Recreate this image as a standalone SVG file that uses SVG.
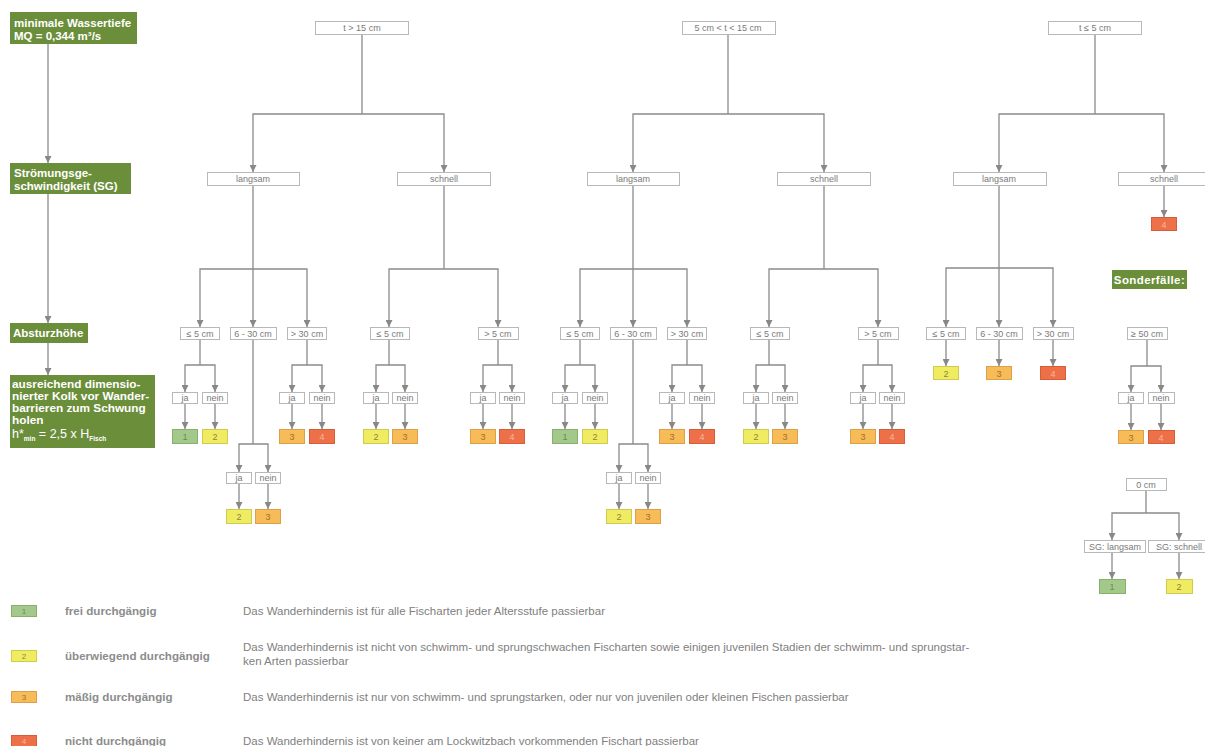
<svg xmlns="http://www.w3.org/2000/svg" width="1205" height="746" viewBox="0 0 1205 746">
<style>
.g{fill:#6b8e3b}
.gt{font-family:"Liberation Sans",Arial,sans-serif;font-size:11.5px;font-weight:bold;fill:#ffffff}
.gk{font-family:"Liberation Sans",Arial,sans-serif;font-size:11.8px;font-weight:bold;fill:#ffffff}
.gn{font-family:"Liberation Sans",Arial,sans-serif;font-size:12.5px;fill:#ffffff}
.b{fill:#ffffff;stroke:#b8b8b8;stroke-width:1}
.t{font-family:"Liberation Sans",Arial,sans-serif;font-size:9px;fill:#7a7a7a;text-anchor:middle}
.r1{fill:#a3c98a;stroke:#8aae72}
.r2{fill:#efec62;stroke:#cfcb50}
.r3{fill:#f7bb58;stroke:#dba048}
.r4{fill:#ee7049;stroke:#d45d3a}
.rt{font-family:"Liberation Sans",Arial,sans-serif;font-size:9px;text-anchor:middle}
.c1{fill:#6b8a5c}.c2{fill:#8c853e}.c3{fill:#a06f2e}.c4{fill:#f6b7a4}
.cn path{fill:none;stroke:#8a8a8a;stroke-width:1.3}
.cn .al{stroke:#a0a0a0;stroke-width:1.6}
.a{marker-end:url(#ah)}
.aa{marker-start:url(#ah);marker-end:url(#ah)}
.lg{font-family:"Liberation Sans",Arial,sans-serif;font-size:11.6px;font-weight:bold;fill:#8c8c8c}
.ld{font-family:"Liberation Sans",Arial,sans-serif;font-size:11.5px;fill:#808080}
.lb{stroke-width:1}
.ln{font-family:"Liberation Sans",Arial,sans-serif;font-size:8px;text-anchor:middle}
</style>
<defs>
<marker id="ah" viewBox="0 0 8 8" refX="8" refY="4" markerWidth="7" markerHeight="7" markerUnits="userSpaceOnUse" orient="auto-start-reverse">
<path d="M0,0L8,4L0,8z" fill="#888888"/>
</marker>
</defs>
<rect width="1205" height="746" fill="#ffffff"/>

<!-- connectors -->
<g id="connectors" class="cn">
<!-- left column -->
<path class="al a" d="M48,44V163"/>
<path class="al a" d="M48,194V323"/>
<path class="al a" d="M48,343V375"/>
<!-- tree 1 -->
<path d="M362,34V114"/>
<path class="aa" d="M253,172V114H444V172"/>
<path class="a" d="M253,185V327"/>
<path class="aa" d="M200,327V269H307V327"/>
<path d="M200,339V365"/>
<path class="aa" d="M185,392V365H215V392"/>
<path class="a" d="M185,403V429"/><path class="a" d="M215,403V429"/>
<path d="M253,339V444"/>
<path class="aa" d="M239,472V444H268V472"/>
<path class="a" d="M239,483V509"/><path class="a" d="M268,483V509"/>
<path d="M307,339V365"/>
<path class="aa" d="M292,392V365H322V392"/>
<path class="a" d="M292,403V429"/><path class="a" d="M322,403V429"/>
<path d="M444,185V269"/>
<path class="aa" d="M389,327V269H498V327"/>
<path d="M389,339V365"/>
<path class="aa" d="M376,392V365H405V392"/>
<path class="a" d="M376,403V429"/><path class="a" d="M405,403V429"/>
<path d="M498,339V365"/>
<path class="aa" d="M483,392V365H512V392"/>
<path class="a" d="M483,403V429"/><path class="a" d="M512,403V429"/>
<!-- tree 2 -->
<path d="M728,34V114"/>
<path class="aa" d="M633,172V114H824V172"/>
<path class="a" d="M633,185V327"/>
<path class="aa" d="M580,327V269H687V327"/>
<path d="M580,339V365"/>
<path class="aa" d="M565,392V365H595V392"/>
<path class="a" d="M565,403V429"/><path class="a" d="M595,403V429"/>
<path d="M633,339V444"/>
<path class="aa" d="M619,472V444H648V472"/>
<path class="a" d="M619,483V509"/><path class="a" d="M648,483V509"/>
<path d="M687,339V365"/>
<path class="aa" d="M672,392V365H702V392"/>
<path class="a" d="M672,403V429"/><path class="a" d="M702,403V429"/>
<path d="M824,185V269"/>
<path class="aa" d="M769,327V269H878V327"/>
<path d="M769,339V365"/>
<path class="aa" d="M756,392V365H785V392"/>
<path class="a" d="M756,403V429"/><path class="a" d="M785,403V429"/>
<path d="M878,339V365"/>
<path class="aa" d="M863,392V365H892V392"/>
<path class="a" d="M863,403V429"/><path class="a" d="M892,403V429"/>
<!-- tree 3 -->
<path d="M1095,34V114"/>
<path class="aa" d="M999,172V114H1164V172"/>
<path class="a" d="M999,185V327"/>
<path class="aa" d="M946,327V268H1053V327"/>
<path class="a" d="M946,339V366"/>
<path class="a" d="M999,339V366"/>
<path class="a" d="M1053,339V366"/>
<path class="a" d="M1164,185V217"/>
<!-- Sonderfaelle -->
<path d="M1147,339V366"/>
<path class="aa" d="M1131,392V366H1161V392"/>
<path class="a" d="M1131,403V430"/><path class="a" d="M1161,403V430"/>
<path d="M1146,490V513"/>
<path class="aa" d="M1112,540V513H1179V540"/>
<path class="a" d="M1112,552V579"/><path class="a" d="M1179,552V579"/>
</g>

<!-- left column -->
<g id="n-wassertiefe"><rect class="g" x="10" y="12" width="127" height="32"/><text class="gt" x="14" y="27">minimale Wassertiefe</text><text class="gt" x="14" y="40">MQ = 0,344 m³/s</text></g>
<g id="n-stroemung"><rect class="g" x="10" y="163" width="121" height="31"/><text class="gt" x="14" y="177">Strömungsge-</text><text class="gt" x="14" y="190">schwindigkeit (SG)</text></g>
<g id="n-absturz"><rect class="g" x="10" y="323" width="78" height="20"/><text class="gt" x="13" y="337">Absturzhöhe</text></g>
<g id="n-kolk"><rect class="g" x="10" y="375" width="145" height="73"/>
<text class="gk" x="12" y="388">ausreichend dimensio-</text>
<text class="gk" x="12" y="400">nierter Kolk vor Wander-</text>
<text class="gk" x="12" y="412">barrieren zum Schwung</text>
<text class="gk" x="12" y="424">holen</text>
<text class="gn" x="12" y="438">h*<tspan font-size="6.5" font-weight="bold" dy="3">min</tspan><tspan dy="-3"> = 2,5 x H</tspan><tspan font-size="6.5" font-weight="bold" dy="3">Fisch</tspan></text></g>

<!-- tree 1 -->
<g id="t1"><rect class="b" x="315.5" y="21.5" width="93" height="13"/><text class="t" x="362" y="31">t &gt; 15 cm</text></g>
<g id="t1-l"><rect class="b" x="207.5" y="172.5" width="92" height="13"/><text class="t" x="253" y="182">langsam</text></g>
<g id="t1-s"><rect class="b" x="397.5" y="172.5" width="93" height="13"/><text class="t" x="444" y="182">schnell</text></g>
<g id="t1-l-h1"><rect class="b" x="180.5" y="327.5" width="39" height="12"/><text class="t" x="200" y="336.5">≤ 5 cm</text></g>
<g id="t1-l-h2"><rect class="b" x="230.5" y="327.5" width="46" height="12"/><text class="t" x="253" y="336.5">6 - 30 cm</text></g>
<g id="t1-l-h3"><rect class="b" x="287.5" y="327.5" width="39" height="12"/><text class="t" x="307" y="336.5">&gt; 30 cm</text></g>
<g id="t1-s-h1"><rect class="b" x="370.5" y="327.5" width="39" height="12"/><text class="t" x="390" y="336.5">≤ 5 cm</text></g>
<g id="t1-s-h2"><rect class="b" x="478.5" y="327.5" width="40" height="12"/><text class="t" x="498" y="336.5">&gt; 5 cm</text></g>
<g id="t1-a-ja"><rect class="b" x="172.5" y="392.5" width="25" height="11"/><text class="t" x="185" y="401">ja</text></g>
<g id="t1-a-nein"><rect class="b" x="202.5" y="392.5" width="25" height="11"/><text class="t" x="215" y="401">nein</text></g>
<g id="t1-a-r1"><rect class="r1" x="172.5" y="429.5" width="25" height="14"/><text class="rt c1" x="185" y="440">1</text></g>
<g id="t1-a-r2"><rect class="r2" x="202.5" y="429.5" width="25" height="14"/><text class="rt c2" x="215" y="440">2</text></g>
<g id="t1-b-ja"><rect class="b" x="226.5" y="472.5" width="25" height="11"/><text class="t" x="239" y="481">ja</text></g>
<g id="t1-b-nein"><rect class="b" x="255.5" y="472.5" width="25" height="11"/><text class="t" x="268" y="481">nein</text></g>
<g id="t1-b-r2"><rect class="r2" x="226.5" y="509.5" width="25" height="14"/><text class="rt c2" x="239" y="520">2</text></g>
<g id="t1-b-r3"><rect class="r3" x="255.5" y="509.5" width="25" height="14"/><text class="rt c3" x="268" y="520">3</text></g>
<g id="t1-c-ja"><rect class="b" x="279.5" y="392.5" width="25" height="11"/><text class="t" x="292" y="401">ja</text></g>
<g id="t1-c-nein"><rect class="b" x="309.5" y="392.5" width="25" height="11"/><text class="t" x="322" y="401">nein</text></g>
<g id="t1-c-r3"><rect class="r3" x="279.5" y="429.5" width="25" height="14"/><text class="rt c3" x="292" y="440">3</text></g>
<g id="t1-c-r4"><rect class="r4" x="309.5" y="429.5" width="25" height="14"/><text class="rt c4" x="322" y="440">4</text></g>
<g id="t1-d-ja"><rect class="b" x="363.5" y="392.5" width="25" height="11"/><text class="t" x="376" y="401">ja</text></g>
<g id="t1-d-nein"><rect class="b" x="392.5" y="392.5" width="25" height="11"/><text class="t" x="405" y="401">nein</text></g>
<g id="t1-d-r2"><rect class="r2" x="363.5" y="429.5" width="25" height="14"/><text class="rt c2" x="376" y="440">2</text></g>
<g id="t1-d-r3"><rect class="r3" x="392.5" y="429.5" width="25" height="14"/><text class="rt c3" x="405" y="440">3</text></g>
<g id="t1-e-ja"><rect class="b" x="470.5" y="392.5" width="25" height="11"/><text class="t" x="483" y="401">ja</text></g>
<g id="t1-e-nein"><rect class="b" x="499.5" y="392.5" width="25" height="11"/><text class="t" x="512" y="401">nein</text></g>
<g id="t1-e-r3"><rect class="r3" x="470.5" y="429.5" width="25" height="14"/><text class="rt c3" x="483" y="440">3</text></g>
<g id="t1-e-r4"><rect class="r4" x="499.5" y="429.5" width="25" height="14"/><text class="rt c4" x="512" y="440">4</text></g>

<!-- tree 2 -->
<g id="t2"><rect class="b" x="682.5" y="21.5" width="93" height="13"/><text class="t" x="728" y="31">5 cm &lt; t &lt; 15 cm</text></g>
<g id="t2-l"><rect class="b" x="587.5" y="172.5" width="92" height="13"/><text class="t" x="633" y="182">langsam</text></g>
<g id="t2-s"><rect class="b" x="777.5" y="172.5" width="93" height="13"/><text class="t" x="824" y="182">schnell</text></g>
<g id="t2-l-h1"><rect class="b" x="560.5" y="327.5" width="39" height="12"/><text class="t" x="580" y="336.5">≤ 5 cm</text></g>
<g id="t2-l-h2"><rect class="b" x="610.5" y="327.5" width="46" height="12"/><text class="t" x="633" y="336.5">6 - 30 cm</text></g>
<g id="t2-l-h3"><rect class="b" x="667.5" y="327.5" width="39" height="12"/><text class="t" x="687" y="336.5">&gt; 30 cm</text></g>
<g id="t2-s-h1"><rect class="b" x="750.5" y="327.5" width="39" height="12"/><text class="t" x="770" y="336.5">≤ 5 cm</text></g>
<g id="t2-s-h2"><rect class="b" x="858.5" y="327.5" width="40" height="12"/><text class="t" x="878" y="336.5">&gt; 5 cm</text></g>
<g id="t2-a-ja"><rect class="b" x="552.5" y="392.5" width="25" height="11"/><text class="t" x="565" y="401">ja</text></g>
<g id="t2-a-nein"><rect class="b" x="582.5" y="392.5" width="25" height="11"/><text class="t" x="595" y="401">nein</text></g>
<g id="t2-a-r1"><rect class="r1" x="552.5" y="429.5" width="25" height="14"/><text class="rt c1" x="565" y="440">1</text></g>
<g id="t2-a-r2"><rect class="r2" x="582.5" y="429.5" width="25" height="14"/><text class="rt c2" x="595" y="440">2</text></g>
<g id="t2-b-ja"><rect class="b" x="606.5" y="472.5" width="25" height="11"/><text class="t" x="619" y="481">ja</text></g>
<g id="t2-b-nein"><rect class="b" x="635.5" y="472.5" width="25" height="11"/><text class="t" x="648" y="481">nein</text></g>
<g id="t2-b-r2"><rect class="r2" x="606.5" y="509.5" width="25" height="14"/><text class="rt c2" x="619" y="520">2</text></g>
<g id="t2-b-r3"><rect class="r3" x="635.5" y="509.5" width="25" height="14"/><text class="rt c3" x="648" y="520">3</text></g>
<g id="t2-c-ja"><rect class="b" x="659.5" y="392.5" width="25" height="11"/><text class="t" x="672" y="401">ja</text></g>
<g id="t2-c-nein"><rect class="b" x="689.5" y="392.5" width="25" height="11"/><text class="t" x="702" y="401">nein</text></g>
<g id="t2-c-r3"><rect class="r3" x="659.5" y="429.5" width="25" height="14"/><text class="rt c3" x="672" y="440">3</text></g>
<g id="t2-c-r4"><rect class="r4" x="689.5" y="429.5" width="25" height="14"/><text class="rt c4" x="702" y="440">4</text></g>
<g id="t2-d-ja"><rect class="b" x="743.5" y="392.5" width="25" height="11"/><text class="t" x="756" y="401">ja</text></g>
<g id="t2-d-nein"><rect class="b" x="772.5" y="392.5" width="25" height="11"/><text class="t" x="785" y="401">nein</text></g>
<g id="t2-d-r2"><rect class="r2" x="743.5" y="429.5" width="25" height="14"/><text class="rt c2" x="756" y="440">2</text></g>
<g id="t2-d-r3"><rect class="r3" x="772.5" y="429.5" width="25" height="14"/><text class="rt c3" x="785" y="440">3</text></g>
<g id="t2-e-ja"><rect class="b" x="850.5" y="392.5" width="25" height="11"/><text class="t" x="863" y="401">ja</text></g>
<g id="t2-e-nein"><rect class="b" x="879.5" y="392.5" width="25" height="11"/><text class="t" x="892" y="401">nein</text></g>
<g id="t2-e-r3"><rect class="r3" x="850.5" y="429.5" width="25" height="14"/><text class="rt c3" x="863" y="440">3</text></g>
<g id="t2-e-r4"><rect class="r4" x="879.5" y="429.5" width="25" height="14"/><text class="rt c4" x="892" y="440">4</text></g>

<!-- tree 3 -->
<g id="t3"><rect class="b" x="1048.5" y="21.5" width="93" height="13"/><text class="t" x="1095" y="31">t ≤ 5 cm</text></g>
<g id="t3-l"><rect class="b" x="953.5" y="172.5" width="93" height="13"/><text class="t" x="999" y="182">langsam</text></g>
<g id="t3-s"><rect class="b" x="1118.5" y="172.5" width="93" height="13"/><text class="t" x="1164" y="182">schnell</text></g>
<g id="t3-s-r4"><rect class="r4" x="1151.5" y="217.5" width="25" height="13"/><text class="rt c4" x="1164" y="227.5">4</text></g>
<g id="t3-l-h1"><rect class="b" x="926.5" y="327.5" width="39" height="12"/><text class="t" x="946" y="336.5">≤ 5 cm</text></g>
<g id="t3-l-h2"><rect class="b" x="976.5" y="327.5" width="46" height="12"/><text class="t" x="999" y="336.5">6 - 30 cm</text></g>
<g id="t3-l-h3"><rect class="b" x="1033.5" y="327.5" width="40" height="12"/><text class="t" x="1053" y="336.5">&gt; 30 cm</text></g>
<g id="t3-r2"><rect class="r2" x="933.5" y="366.5" width="25" height="13"/><text class="rt c2" x="946" y="376.5">2</text></g>
<g id="t3-r3"><rect class="r3" x="986.5" y="366.5" width="25" height="13"/><text class="rt c3" x="999" y="376.5">3</text></g>
<g id="t3-r4"><rect class="r4" x="1040.5" y="366.5" width="25" height="13"/><text class="rt c4" x="1053" y="376.5">4</text></g>

<!-- Sonderfaelle -->
<g id="n-sonderfaelle"><rect class="g" x="1112" y="270" width="75" height="19"/><text class="gt" x="1149.5" y="284" text-anchor="middle" letter-spacing="0.4">Sonderfälle:</text></g>
<g id="s-h50"><rect class="b" x="1127.5" y="327.5" width="40" height="12"/><text class="t" x="1147" y="336.5">≥ 50 cm</text></g>
<g id="s-ja"><rect class="b" x="1118.5" y="392.5" width="25" height="11"/><text class="t" x="1131" y="401">ja</text></g>
<g id="s-nein"><rect class="b" x="1148.5" y="392.5" width="26" height="11"/><text class="t" x="1161" y="401">nein</text></g>
<g id="s-r3"><rect class="r3" x="1118.5" y="430.5" width="25" height="13"/><text class="rt c3" x="1131" y="440.5">3</text></g>
<g id="s-r4"><rect class="r4" x="1148.5" y="430.5" width="26" height="13"/><text class="rt c4" x="1161" y="440.5">4</text></g>
<g id="s-h0"><rect class="b" x="1126.5" y="478.5" width="40" height="12"/><text class="t" x="1146" y="487.5">0 cm</text></g>
<g id="s-sgl"><rect class="b" x="1084.5" y="540.5" width="61" height="12"/><text class="t" x="1115" y="549.5">SG: langsam</text></g>
<g id="s-sgs"><rect class="b" x="1148.5" y="540.5" width="62" height="12"/><text class="t" x="1179" y="549.5">SG: schnell</text></g>
<g id="s-r1"><rect class="r1" x="1099.5" y="579.5" width="26" height="14"/><text class="rt c1" x="1112" y="590">1</text></g>
<g id="s-r2"><rect class="r2" x="1166.5" y="579.5" width="26" height="14"/><text class="rt c2" x="1179" y="590">2</text></g>

<!-- legend -->
<g id="legend-1"><rect class="r1 lb" x="11.5" y="605.5" width="25" height="11"/><text class="ln c1" x="24" y="614">1</text><text class="lg" x="65" y="615">frei durchgängig</text><text class="ld" x="243" y="615">Das Wanderhindernis ist für alle Fischarten jeder Altersstufe passierbar</text></g>
<g id="legend-2"><rect class="r2 lb" x="11.5" y="650.5" width="25" height="11"/><text class="ln c2" x="24" y="659">2</text><text class="lg" x="65" y="660">überwiegend durchgängig</text><text class="ld" x="243" y="651">Das Wanderhindernis ist nicht von schwimm- und sprungschwachen Fischarten sowie einigen juvenilen Stadien der schwimm- und sprungstar-</text><text class="ld" x="243" y="665">ken Arten passierbar</text></g>
<g id="legend-3"><rect class="r3 lb" x="11.5" y="691.5" width="25" height="11"/><text class="ln c3" x="24" y="700">3</text><text class="lg" x="65" y="701">mäßig durchgängig</text><text class="ld" x="243" y="701">Das Wanderhindernis ist nur von schwimm- und sprungstarken, oder nur von juvenilen oder kleinen Fischen passierbar</text></g>
<g id="legend-4"><rect class="r4 lb" x="11.5" y="735.5" width="25" height="11"/><text class="ln c4" x="24" y="744">4</text><text class="lg" x="65" y="745">nicht durchgängig</text><text class="ld" x="243" y="745">Das Wanderhindernis ist von keiner am Lockwitzbach vorkommenden Fischart passierbar</text></g>
</svg>
